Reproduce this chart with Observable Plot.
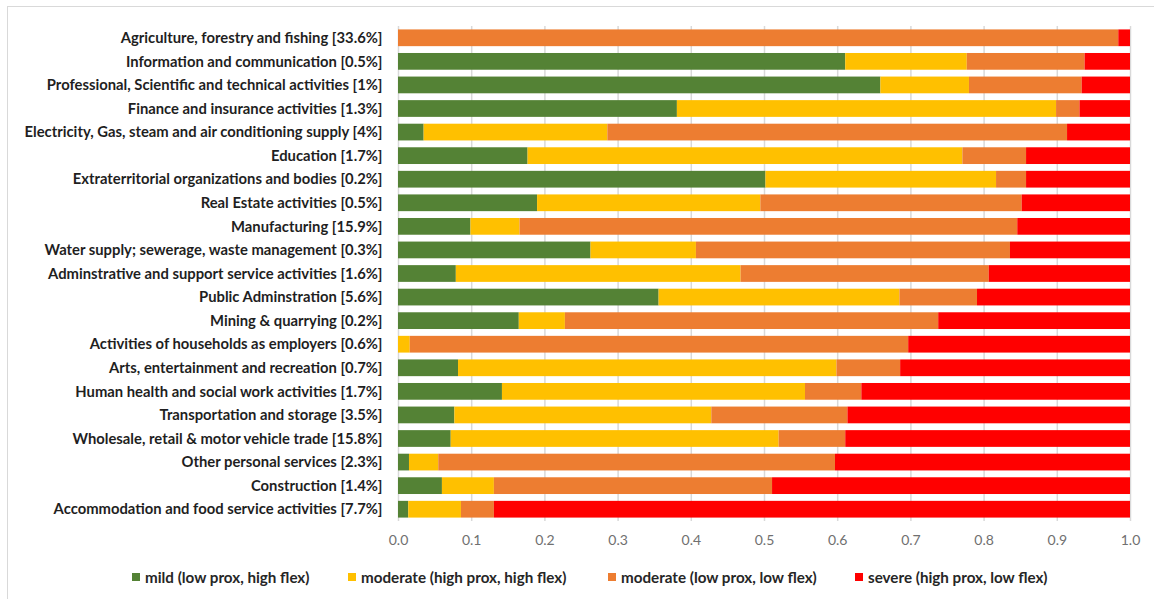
<!DOCTYPE html>
<html>
<head>
<meta charset="utf-8">
<script src="https://cdn.jsdelivr.net/npm/d3@7"></script>
<script src="https://cdn.jsdelivr.net/npm/@observablehq/plot@0.6"></script>
<style>
  html, body { margin: 0; padding: 0; background: #fff; }
  body { width: 1154px; height: 599px; position: relative; overflow: hidden; font-family: Lato, "Open Sans", sans-serif; }
  #frame { position: absolute; left: 7px; top: 6px; width: 1200px; height: 700px; border: 1.5px solid #d9d9d9; box-sizing: border-box; }
  #chart { position: absolute; left: 0; top: 0; }
  #legend { position: absolute; top: 568px; left: 0; width: 1154px; height: 18px; }
  .item { position: absolute; top: 0; display: flex; align-items: center; height: 18px; font-size: 15.2px; font-weight: bold; color: #262626; white-space: nowrap; }
  .sw { width: 8px; height: 8px; margin-right: 5px; display: inline-block; }
</style>
</head>
<body>
<div id="frame"></div>
<div id="chart"></div>
<div id="legend"></div>
<script>
// ---- data ----
const categories = [
  "Agriculture, forestry and fishing [33.6%]",
  "Information and communication [0.5%]",
  "Professional, Scientific and technical activities [1%]",
  "Finance and insurance activities [1.3%]",
  "Electricity, Gas, steam and air conditioning supply [4%]",
  "Education [1.7%]",
  "Extraterritorial organizations and bodies [0.2%]",
  "Real Estate activities [0.5%]",
  "Manufacturing [15.9%]",
  "Water supply; sewerage, waste management [0.3%]",
  "Adminstrative and support service activities [1.6%]",
  "Public Adminstration [5.6%]",
  "Mining & quarrying [0.2%]",
  "Activities of households as employers [0.6%]",
  "Arts, entertainment and recreation [0.7%]",
  "Human health and social work activities [1.7%]",
  "Transportation and storage [3.5%]",
  "Wholesale, retail & motor vehicle trade [15.8%]",
  "Other personal services [2.3%]",
  "Construction [1.4%]",
  "Accommodation and food service activities [7.7%]"
];
const mild         = [0.000, 0.611, 0.659, 0.381, 0.035, 0.177, 0.502, 0.190, 0.099, 0.263, 0.079, 0.356, 0.165, 0.000, 0.082, 0.142, 0.077, 0.072, 0.015, 0.060, 0.014];
const moderateHigh = [0.000, 0.166, 0.121, 0.518, 0.251, 0.594, 0.315, 0.305, 0.067, 0.144, 0.389, 0.329, 0.063, 0.016, 0.517, 0.414, 0.351, 0.448, 0.040, 0.071, 0.072];
const moderateLow  = [0.984, 0.161, 0.154, 0.032, 0.628, 0.087, 0.041, 0.357, 0.680, 0.429, 0.339, 0.106, 0.510, 0.681, 0.087, 0.077, 0.186, 0.091, 0.542, 0.380, 0.045];
const severe       = [0.016, 0.062, 0.066, 0.069, 0.086, 0.142, 0.142, 0.148, 0.154, 0.164, 0.193, 0.209, 0.262, 0.303, 0.314, 0.367, 0.386, 0.389, 0.403, 0.489, 0.869];
const seriesNames = [
  "mild (low prox, high flex)",
  "moderate (high prox, high flex)",
  "moderate (low prox, low flex)",
  "severe (high prox, low flex)"
];
const seriesColors = ["#548235", "#FFC000", "#ED7D31", "#FF0000"];
const xTicks = [0, 0.1, 0.2, 0.3, 0.4, 0.5, 0.6, 0.7, 0.8, 0.9, 1.0];

// ---- build long table ----
const seriesValues = [mild, moderateHigh, moderateLow, severe];
const rows = [];
seriesValues.forEach((vals, si) => {
  categories.forEach((c, ci) => rows.push({category: c, series: seriesNames[si], value: vals[ci]}));
});

const chart = Plot.plot({
  width: 1154,
  height: 556,
  marginLeft: 398,
  marginRight: 24,
  marginTop: 26,
  marginBottom: 35,
  style: {fontFamily: "Lato, 'Open Sans', sans-serif", background: "transparent"},
  x: {domain: [0, 1]},
  y: {domain: categories, paddingInner: 0.29, paddingOuter: 0.145, round: false},
  color: {domain: seriesNames, range: seriesColors},
  marks: [
    Plot.gridX(xTicks, {stroke: "#d9d9d9", strokeOpacity: 1, strokeWidth: 1.5}),
    Plot.barX(rows, Plot.stackX({x: "value", y: "category", fill: "series"})),
    Plot.axisX(xTicks, {tickSize: 0, tickPadding: 14, tickFormat: d3.format(".1f"), fontSize: 14, fill: "#707070", label: null}),
    Plot.axisY({tickSize: 0, tickPadding: 16, fontSize: 14.8, fontWeight: "bold", fill: "#1f1f1f", label: null})
  ]
});
document.getElementById("chart").appendChild(chart);

// ---- legend ----
const legendLefts = [132, 348, 608, 855];
const legend = document.getElementById("legend");
seriesNames.forEach((name, i) => {
  const item = document.createElement("div");
  item.className = "item";
  item.style.left = legendLefts[i] + "px";
  const sw = document.createElement("span");
  sw.className = "sw";
  sw.style.background = seriesColors[i];
  item.appendChild(sw);
  item.appendChild(document.createTextNode(name));
  legend.appendChild(item);
});
</script>
</body>
</html>
